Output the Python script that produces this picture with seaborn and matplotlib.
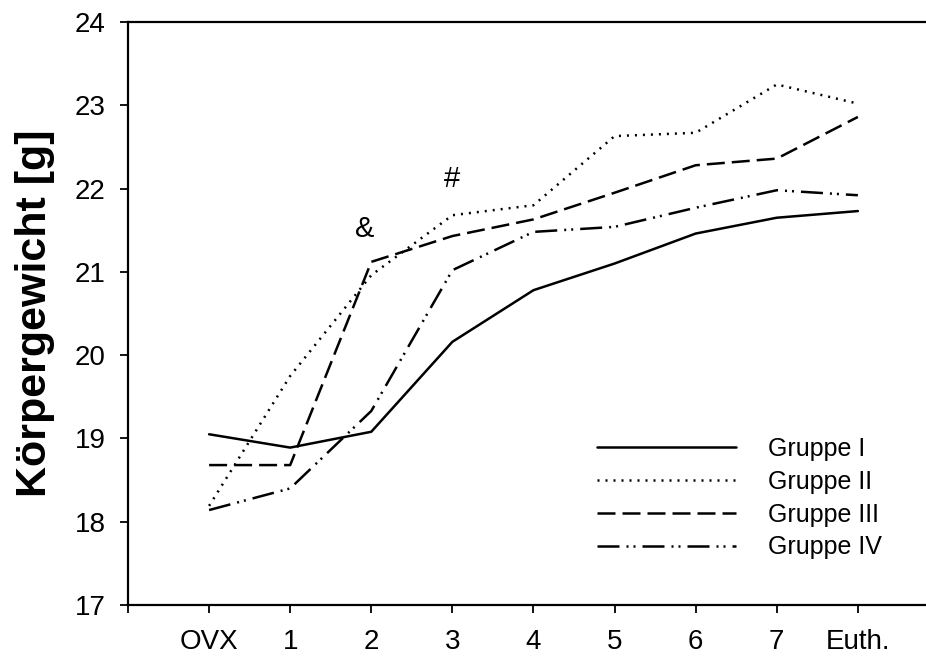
import numpy as np
import pandas as pd
import seaborn as sns
import matplotlib.pyplot as plt

# time points and body weight per group
time_labels = ['OVX', '1', '2', '3', '4', '5', '6', '7', 'Euth.']
gruppe_1 = [19.05, 18.89, 19.08, 20.16, 20.78, 21.10, 21.46, 21.65, 21.73]
gruppe_2 = [18.19, 19.75, 20.96, 21.68, 21.80, 22.63, 22.67, 23.25, 23.02]
gruppe_3 = [18.68, 18.68, 21.12, 21.43, 21.63, 21.95, 22.28, 22.36, 22.86]
gruppe_4 = [18.14, 18.40, 19.33, 21.02, 21.48, 21.54, 21.77, 21.98, 21.92]
group_names = ['Gruppe I', 'Gruppe II', 'Gruppe III', 'Gruppe IV']

rows = []
for name, vals in zip(group_names, [gruppe_1, gruppe_2, gruppe_3, gruppe_4]):
    for i, v in enumerate(vals):
        rows.append({'zeit': i, 'gewicht': v, 'gruppe': name})
df = pd.DataFrame(rows)

sns.set_theme(style='ticks')
plt.rcParams['font.family'] = ['Liberation Sans', 'DejaVu Sans']
plt.rcParams['text.color'] = 'black'
plt.rcParams['axes.labelcolor'] = 'black'

fig = plt.figure(figsize=(9.26, 6.62), dpi=100)
ax = fig.add_axes([128/926, 57/662, 1 - 128/926, 583/662])

dash_styles = {
    'Gruppe I': '',
    'Gruppe II': (0.8, 2.4),
    'Gruppe III': (7.2, 2.8),
    'Gruppe IV': (8.8, 2.8, 0.8, 2.0, 0.8, 2.8),
}
sns.lineplot(data=df, x='zeit', y='gewicht', style='gruppe', dashes=dash_styles,
             color='black', linewidth=1.8, ax=ax)

ax.set_xlim(-1, 8.84)
ax.set_ylim(17, 24)
ax.set_xticks(np.arange(-1, len(time_labels)))
ax.set_xticklabels([''] + time_labels)
ax.set_yticks(np.arange(17, 25))
ax.tick_params(axis='both', labelsize=20, length=6, width=1.3, color='black',
               labelcolor='black', direction='out')
ax.tick_params(axis='x', pad=11)
ax.tick_params(axis='y', pad=10)

for side in ['left', 'bottom', 'top']:
    ax.spines[side].set_color('black')
    ax.spines[side].set_linewidth(1.6)
ax.spines['right'].set_visible(False)

ax.set_xlabel('')
ax.set_ylabel('Körpergewicht [g]', fontsize=31, fontweight='bold', labelpad=14)

ax.text(1.92, 21.52, '&', fontsize=21, ha='center', va='center')
ax.text(3.0, 22.12, '#', fontsize=21, ha='center', va='center')

ax.legend(frameon=False, fontsize=18, handlelength=5.56, handletextpad=1.3,
          labelspacing=0.35, borderaxespad=0, loc='upper left',
          bbox_to_anchor=(0.575, 0.305))

fig.savefig('out.png', dpi=100)
